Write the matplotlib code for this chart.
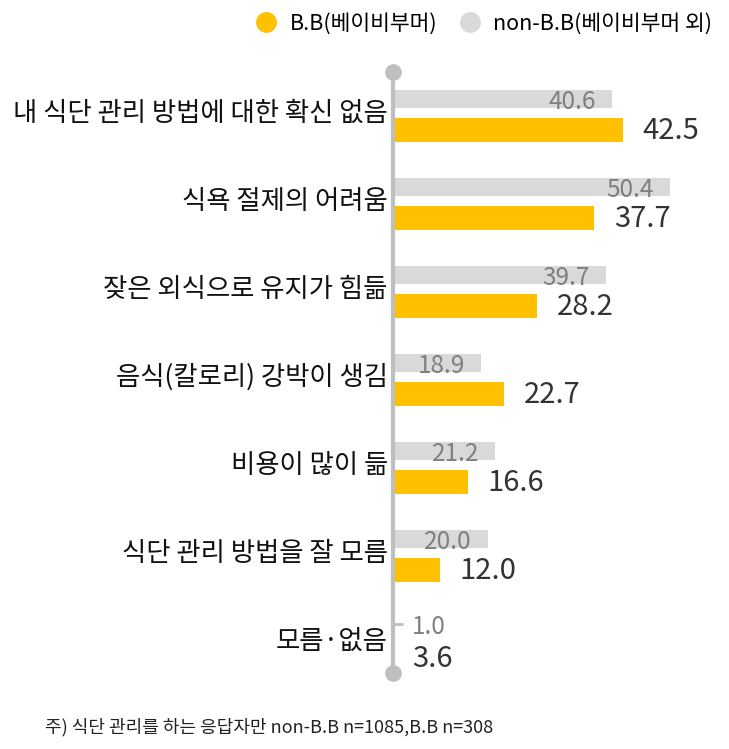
import matplotlib.pyplot as plt
from matplotlib.lines import Line2D

plt.rcParams['font.family'] = ['Noto Sans CJK KR', 'DejaVu Sans']

categories = ['내 식단 관리 방법에 대한 확신 없음', '식욕 절제의 어려움', '잦은 외식으로 유지가 힘듦',
              '음식(칼로리) 강박이 생김', '비용이 많이 듦', '식단 관리 방법을 잘 모름', '모름·없음']
bb = [42.5, 37.7, 28.2, 22.7, 16.6, 12.0, 3.6]
non_bb = [40.6, 50.4, 39.7, 18.9, 21.2, 20.0, 1.0]

ORANGE = '#FFC000'
GREY = '#D9D9D9'

# the value axis of the original starts at about 4.5, not at zero
XMIN = 4.5
PX = 6.0  # pixels per unit

fig = plt.figure(figsize=(7.29, 7.49), dpi=100)
ax = fig.add_axes([395 / 729, 0, 334 / 729, 1])
ax.set_xlim(XMIN, XMIN + 334 / PX)
ax.set_ylim((749 - 99) / 88, -99 / 88)
ax.axis('off')

for i, (cat, b, n) in enumerate(zip(categories, bb, non_bb)):
    ax.barh(i, n, height=0.205, color=GREY, left=0)
    ax.barh(i + 0.352, b, height=0.273, color=ORANGE, left=0)
    if n > XMIN + 5:
        ax.text(n - 2.7, i + 0.03, f'{n:.1f}', ha='right', va='center', fontsize=17.5, color='#7F7F7F')
    else:
        ax.plot([XMIN - 0.35, XMIN + 1.4], [i - 0.03, i - 0.03], color='#BFBFBF', lw=2, solid_capstyle='butt')
        ax.text(XMIN + 2.8, i, f'{n:.1f}', ha='left', va='center', fontsize=17.5, color='#7F7F7F')
    bx = b + 3.3 if b > XMIN else XMIN + 2.8
    ax.text(bx, i + 0.36, f'{b:.1f}', ha='left', va='center', fontsize=21, color='#333333')
    ax.text(XMIN - 1.2, i + 0.16, cat, ha='right', va='center', fontsize=19, color='#111111', clip_on=False)

# vertical axis line with end dots
ax_x = XMIN - 2 / PX
y0, y1 = (72 - 99) / 88, (673 - 99) / 88
ax.plot([ax_x, ax_x], [y0, y1], color='#BFBFBF', lw=3, zorder=3, solid_capstyle='butt', clip_on=False)
ax.plot([ax_x, ax_x], [y0, y1], 'o', color='#BFBFBF', ms=11, zorder=3, clip_on=False)

handles = [Line2D([], [], marker='o', ls='', color=ORANGE, ms=14),
           Line2D([], [], marker='o', ls='', color=GREY, ms=14)]
fig.legend(handles, ['B.B(베이비부머)', 'non-B.B(베이비부머 외)'], loc='upper right',
           bbox_to_anchor=(0.995, 1.0), ncol=2, frameon=False, fontsize=15.5,
           handletextpad=0.1, columnspacing=0.5, borderaxespad=0.2)

fig.text(45 / 729, 1 - 727 / 749, '주) 식단 관리를 하는 응답자만 non-B.B n=1085,B.B n=308',
         ha='left', va='center', fontsize=13, color='#222222')

fig.savefig('out.png', dpi=100)
